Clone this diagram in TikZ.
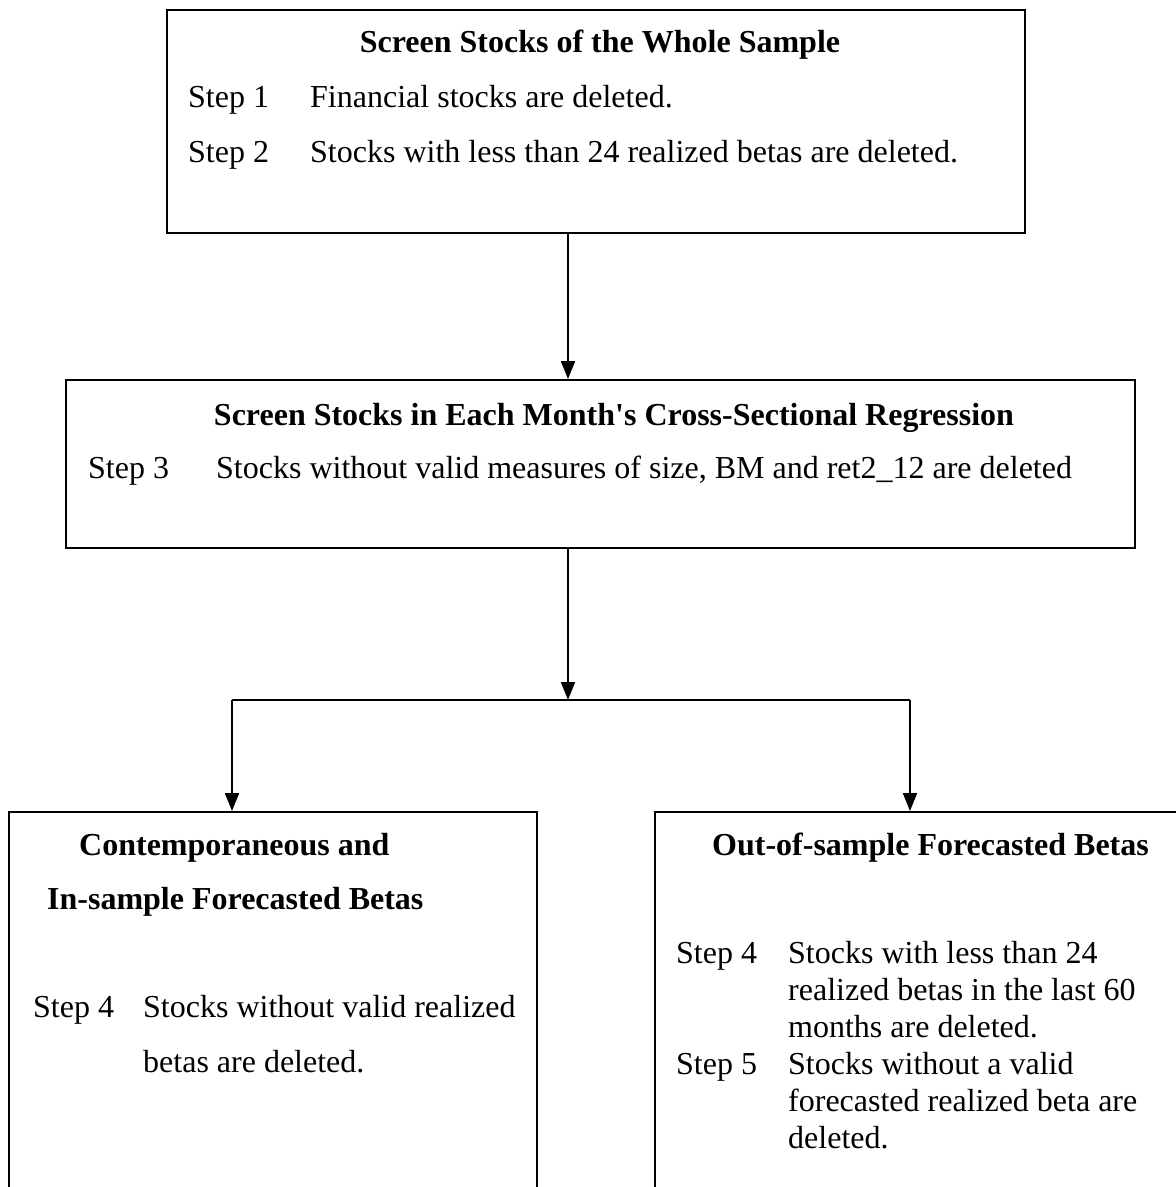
\documentclass[tikz,border=0pt]{standalone}
\usepackage{fontspec}
\setmainfont{Liberation Serif}
\usetikzlibrary{arrows.meta}
\begin{document}
\begin{tikzpicture}[x=1pt,y=-1pt,
  box/.style={draw=black, line width=2pt, rectangle, inner sep=0pt},
  txt/.style={anchor=base west, inner sep=0pt, font=\fontsize{32}{38}\selectfont},
  ttl/.style={anchor=base, inner sep=0pt, font=\fontsize{32}{38}\selectfont\bfseries},
  ttlw/.style={anchor=base west, inner sep=0pt, font=\fontsize{32}{38}\selectfont\bfseries},
  conn/.style={line width=2pt},
  arr/.style={line width=2pt, -{Triangle[length=18pt,width=14pt]}}]
\useasboundingbox (0,0) rectangle (1176,1187);
% boxes
\node[box, minimum width=858pt, minimum height=223pt] (b1) at (596,121.5) {};
\node[box, minimum width=1069pt, minimum height=168pt] (b2) at (600.5,464) {};
\node[box, minimum width=528pt, minimum height=388pt] (b3) at (273,1006) {};
\node[box, minimum width=540pt, minimum height=388pt] (b4) at (925,1006) {};
% box 1 text
\node[ttl] (t1) at (600,52) {Screen Stocks of the Whole Sample};
\node[txt] (s1) at (188,107) {Step 1};
\node[txt] (s1t) at (310,107) {Financial stocks are deleted.};
\node[txt] (s2) at (188,162) {Step 2};
\node[txt] (s2t) at (310,162) {Stocks with less than 24 realized betas are deleted.};
% box 2 text
\node[ttl] (t2) at (614,425) {Screen Stocks in Each Month\textquotesingle s Cross-Sectional Regression};
\node[txt] (s3) at (88,478) {Step 3};
\node[txt] (s3t) at (216,478) {Stocks without valid measures of size, BM and ret2\_12 are deleted};
% box 3 text
\node[ttlw] (t3a) at (79,855) {Contemporaneous and};
\node[ttlw] (t3b) at (47,909) {In-sample Forecasted Betas};
\node[txt] (s4l) at (33,1017) {Step 4};
\node[txt] (s4lt) at (143,1017) {Stocks without valid realized};
\node[txt] (s4lu) at (143,1072) {betas are deleted.};
% box 4 text
\node[ttlw] (t4) at (712,855) {Out-of-sample Forecasted Betas};
\node[txt] (s4r) at (676,963) {Step 4};
\node[txt] (s4ra) at (788,963) {Stocks with less than 24};
\node[txt] (s4rb) at (788,1000) {realized betas in the last 60};
\node[txt] (s4rc) at (788,1037) {months are deleted.};
\node[txt] (s5r) at (676,1074) {Step 5};
\node[txt] (s5ra) at (788,1074) {Stocks without a valid};
\node[txt] (s5rb) at (788,1111) {forecasted realized beta are};
\node[txt] (s5rc) at (788,1148) {deleted.};
% connectors
\coordinate (sp) at (568,700);
\coordinate (cl) at (232,700);
\coordinate (cr) at (910,700);
\draw[arr] (sp |- b1.south) -- (sp |- b2.north);
\draw[arr] (sp |- b2.south) -- (sp);
\draw[conn] (cl) -- (cr);
\draw[arr] (cl) -- (cl |- b3.north);
\draw[arr] (cr) -- (cr |- b4.north);
\end{tikzpicture}
\end{document}
